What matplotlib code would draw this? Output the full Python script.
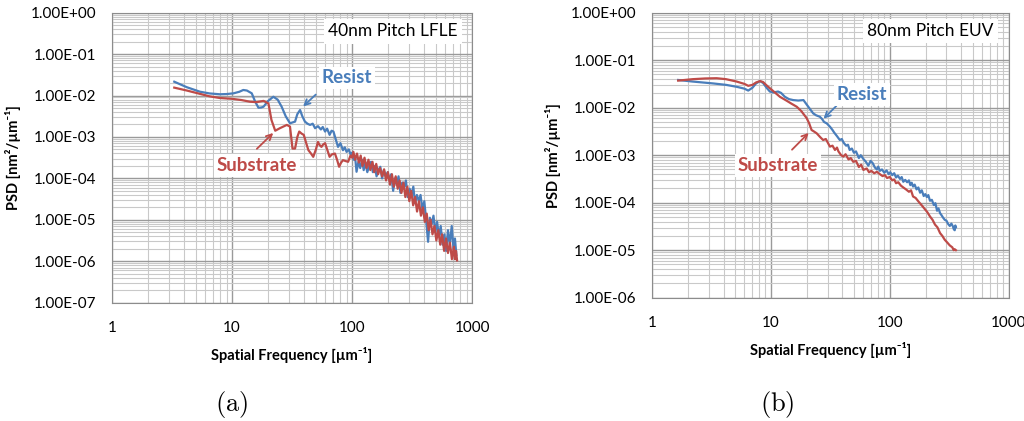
import numpy as np
import matplotlib
matplotlib.use("Agg")
import matplotlib.pyplot as plt
from matplotlib.ticker import LogLocator, FuncFormatter, NullFormatter

plt.rcParams['font.family'] = ['Lato', 'DejaVu Sans']
plt.rcParams['mathtext.fontset'] = 'cm'

BLUE = '#4a7ebb'
RED = '#be4b48'

# ---- (a) 40nm Pitch LFLE : frequency [um^-1], -log10(PSD)
a_res_f = [3.3, 4.2, 5.4, 6.5, 7.9, 9.0, 10.3, 11.5, 12.4, 13.3, 14.6, 15.6, 16.6, 17.5, 18.3,
           20.0, 22.1, 24.0, 25.9, 28.0, 30.4, 33.5, 35.0, 36.9, 38.5, 40.5, 42.5, 44.7, 47, 49.2,
           52, 55, 57, 59.6, 62, 65, 67.5, 70, 73, 76.4, 80, 84, 87, 90, 94, 97, 100, 103, 106,
           109, 113, 117, 121, 125, 129, 134, 139, 144, 149, 155, 160, 166, 172, 178, 184, 191,
           198, 205, 212, 220, 228, 236, 244, 253, 262, 272, 281, 291, 302, 313, 324, 335, 347,
           360, 372, 386, 400, 414, 430, 445, 461, 477, 494, 511, 530, 548, 568, 588, 608, 630,
           652, 677, 700, 720, 740]
a_res_e = [1.667, 1.80, 1.908, 1.95, 1.97, 1.965, 1.947, 1.91, 1.867, 1.88, 1.947, 2.15, 2.295, 2.29, 2.27,
           2.13, 2.03, 2.10, 2.27, 2.50, 2.67, 2.63, 2.45, 2.35, 2.50, 2.63, 2.68, 2.71, 2.68, 2.79,
           2.74, 2.82, 2.76, 2.87, 2.80, 2.95, 2.85, 2.87, 3.05, 3.24, 3.15, 3.32, 3.25, 3.36, 3.30, 3.42, 3.38, 3.55, 3.48,
           3.84, 3.60, 3.75, 3.55, 3.80, 3.62, 3.85, 3.70, 3.60, 3.85, 3.70, 3.95, 3.80, 3.72, 4.00, 3.80, 3.95,
           3.85, 4.05, 3.90, 4.30, 4.00, 4.15, 3.95, 4.35, 4.10, 4.20, 4.05, 4.45, 4.25, 4.40, 4.20, 4.60, 4.40,
           4.55, 4.40, 4.75, 4.55, 5.00, 5.53, 4.95, 5.10, 4.90, 5.30, 5.05, 5.40, 5.15, 5.60, 5.35, 5.75, 5.25,
           5.60, 5.15, 5.70, 5.45, 5.85]

a_sub_f = [3.3, 4.2, 5.4, 6.5, 7.9, 10, 12, 14.1, 16, 18.3, 20.1, 21.3, 22.9, 25, 28.6, 30.4, 31.9,
           33.5, 35, 36.3, 38, 39.6, 41.5, 43.3, 45.5, 47.5, 50, 52, 53.8, 55.6, 57.5, 59.6, 62, 65,
           68, 72, 75, 78, 81, 84, 88, 92.7, 97, 100, 102.6, 106, 110, 114, 118, 122, 127, 132, 137,
           142, 148, 153, 159, 165, 171, 178, 185, 192, 199, 207, 215, 223, 231, 240, 249, 258, 268,
           278, 289, 300, 311, 323, 335, 348, 361, 375, 389, 404, 419, 435, 451, 468, 486, 504, 523,
           543, 563, 585, 607, 630, 654, 679, 705, 720, 735, 750]
a_sub_e = [1.81, 1.88, 1.96, 2.02, 2.06, 2.08, 2.11, 2.15, 2.16, 2.13, 2.19, 2.59, 2.85, 2.79, 2.71, 2.75, 3.28,
           3.28, 3.00, 2.87, 2.92, 2.95, 3.15, 3.32, 3.40, 3.48, 3.30, 3.12, 3.20, 3.24, 3.18, 3.15, 3.30, 3.48,
           3.42, 3.40, 3.55, 3.72, 3.62, 3.56, 3.58, 3.60, 3.45, 3.50, 3.36, 3.55, 3.40, 3.62, 3.45, 3.70, 3.50, 3.75, 3.55,
           3.80, 3.60, 3.85, 3.65, 3.90, 3.75, 3.95, 3.78, 4.05, 3.85, 4.15, 3.90, 4.20, 3.95, 4.25, 4.05, 4.35, 4.10,
           4.45, 4.20, 4.55, 4.30, 4.65, 4.45, 4.80, 4.55, 4.90, 4.70, 5.05, 4.85, 5.25, 5.00, 5.35, 5.15, 5.50, 5.25,
           5.60, 5.35, 5.75, 5.45, 5.80, 5.55, 5.95, 5.65, 5.95, 5.75, 5.98]

# ---- (b) 80nm Pitch EUV
b_res_f = [1.66, 2.2, 3.28, 4.2, 5.15, 6.0, 6.45, 7.0, 7.5, 8.1, 8.6, 9.2, 9.8, 10.5, 11.5, 12.2,
           13.1, 14.2, 15.4, 17, 18.8, 20.5, 22.7, 24, 25.8, 27, 28, 29.5, 31.4, 33, 34, 36, 38, 39.5,
           41, 43, 44.5, 46, 48, 50, 52, 55, 57, 60, 63, 66, 69, 72, 75, 78, 80, 82.6, 86, 90, 94,
           98, 101, 105, 109, 113, 117, 122, 126, 130, 135, 140, 145, 149, 153, 157, 162, 168, 174,
           180, 186, 193, 199, 205, 211, 218, 226, 235, 242, 250, 257, 265, 272, 280, 290, 300, 310,
           320, 330, 340, 346, 352, 356, 360]
b_res_e = [1.417, 1.45, 1.49, 1.52, 1.56, 1.60, 1.64, 1.58, 1.49, 1.44, 1.48, 1.58, 1.66, 1.68, 1.66, 1.69,
           1.77, 1.82, 1.84, 1.85, 1.84, 1.97, 2.12, 2.16, 2.19, 2.24, 2.30, 2.33, 2.40, 2.47, 2.52, 2.60, 2.68, 2.66,
           2.74, 2.80, 2.78, 2.89, 2.86, 2.95, 2.92, 3.06, 3.00, 3.08, 3.14, 3.22, 3.12, 3.17, 3.26, 3.30, 3.24, 3.33, 3.30, 3.37, 3.32,
           3.40, 3.36, 3.42, 3.38, 3.47, 3.43, 3.50, 3.46, 3.56, 3.52, 3.57, 3.53, 3.63, 3.58, 3.66, 3.62, 3.72, 3.68,
           3.79, 3.74, 3.86, 3.82, 3.88, 3.84, 3.96, 3.94, 4.05, 4.01, 4.17, 4.12, 4.22, 4.26, 4.31, 4.36, 4.38, 4.45,
           4.49, 4.44, 4.50, 4.56, 4.58, 4.48, 4.52]

b_sub_f = [1.66, 2.2, 2.8, 3.5, 4.2, 5.15, 6.0, 6.45, 7.0, 7.5, 8.1, 8.6, 9.2, 9.8, 10.8, 11.9, 13.5,
           15, 16.5, 18, 20, 21, 22, 23, 24.3, 26, 27.5, 29, 31.4, 33, 34.6, 36, 37, 39, 40.7, 42.5,
           45, 47, 49.3, 52, 55, 57.5, 60, 64, 67, 70, 74, 78, 82.6, 87, 91, 95, 100, 105, 109, 113,
           118, 124, 130, 137, 145, 151, 157, 165, 175, 185, 195, 207, 218, 229, 240, 252, 265, 277,
           290, 305, 320, 336, 345, 352, 360]
b_sub_e = [1.43, 1.40, 1.385, 1.38, 1.40, 1.45, 1.50, 1.54, 1.52, 1.47, 1.44, 1.46, 1.53, 1.59, 1.68, 1.77, 1.85,
           1.92, 1.98, 2.07, 2.22, 2.33, 2.47, 2.50, 2.54, 2.62, 2.68, 2.66, 2.82, 2.80, 2.89, 2.84, 2.92, 3.00, 3.03, 2.98,
           3.09, 3.06, 3.14, 3.12, 3.25, 3.20, 3.31, 3.28, 3.36, 3.33, 3.38, 3.35, 3.40, 3.44, 3.42, 3.48, 3.46, 3.53, 3.51, 3.59,
           3.57, 3.64, 3.68, 3.72, 3.77, 3.74, 3.87, 3.90, 3.98, 4.05, 4.12, 4.20, 4.29, 4.36, 4.46, 4.52, 4.64, 4.70,
           4.78, 4.84, 4.90, 4.94, 5.00, 4.98, 5.00]

panels = [
    dict(rect=[0.1094, 0.281, 0.3516, 0.689], ylim=(1e-7, 1), title='40nm Pitch LFLE',
         res=(a_res_f, a_res_e), sub=(a_sub_f, a_sub_e), cap='(a)', capx=232,
         res_txt=(90.8, 10**-1.577), res_tail=(51.8, 10**-1.932), res_head=(37.6, 10**-2.31),
         sub_txt=(16.1, 10**-3.696), sub_tail=(15.5, 10**-3.333), sub_head=(22.9, 10**-2.857)),
    dict(rect=[0.6367, 0.2929, 0.3483, 0.677], ylim=(1e-6, 1), title='80nm Pitch EUV',
         res=(b_res_f, b_res_e), sub=(b_sub_f, b_sub_e), cap='(b)', capx=777,
         res_txt=(58.7, 10**-1.718), res_tail=(36.9, 10**-1.922), res_head=(26.7, 10**-2.274),
         sub_txt=(11.5, 10**-3.221), sub_tail=(14.5, 10**-2.926), sub_head=(21.6, 10**-2.49)),
]

fig = plt.figure(figsize=(10.24, 4.21), dpi=100)

for p in panels:
    ax = fig.add_axes(p['rect'])
    ax.set_xscale('log')
    ax.set_yscale('log')
    ax.set_xlim(1, 1000)
    ax.set_ylim(*p['ylim'])

    ax.xaxis.set_minor_locator(LogLocator(base=10, subs=np.arange(2, 10), numticks=100))
    ax.yaxis.set_minor_locator(LogLocator(base=10, subs=np.arange(2, 10), numticks=100))
    ax.yaxis.set_major_locator(LogLocator(base=10, numticks=100))
    ax.xaxis.set_minor_formatter(NullFormatter())
    ax.yaxis.set_minor_formatter(NullFormatter())
    ax.yaxis.set_major_formatter(FuncFormatter(lambda v, pos: f"{v:.2E}"))
    ax.xaxis.set_major_formatter(FuncFormatter(lambda v, pos: f"{v:g}"))
    ax.tick_params(which='both', length=0)
    ax.tick_params(axis='x', pad=13, labelsize=11)
    ax.tick_params(axis='y', pad=11, labelsize=11)

    ax.grid(which='major', color='#9a9a9a', lw=1.0)
    ax.grid(which='minor', color='#c9c9c9', lw=0.8)
    ax.set_axisbelow(True)
    for s in ax.spines.values():
        s.set_color('#8c8c8c')

    f, e = p['res']
    ax.plot(f, 10.0 ** -np.array(e), color=BLUE, lw=1.6)
    f, e = p['sub']
    ax.plot(f, 10.0 ** -np.array(e), color=RED, lw=1.6)

    ax.text(0.78, 0.935, p['title'], transform=ax.transAxes, ha='center', va='center',
            fontsize=12.5, bbox=dict(facecolor='white', edgecolor='none', pad=3))

    ax.annotate('', xy=p['res_head'], xytext=p['res_tail'],
                arrowprops=dict(arrowstyle='->', color=BLUE, lw=1.3))
    ax.annotate('', xy=p['sub_head'], xytext=p['sub_tail'],
                arrowprops=dict(arrowstyle='->', color=RED, lw=1.3))
    ax.text(*p['res_txt'], 'Resist', color=BLUE, fontweight='bold', fontsize=13.5,
            ha='center', va='center', bbox=dict(facecolor='white', edgecolor='none', pad=2))
    ax.text(*p['sub_txt'], 'Substrate', color=RED, fontweight='bold', fontsize=13.5,
            ha='center', va='center', bbox=dict(facecolor='white', edgecolor='none', pad=2))

    ax.set_xlabel('Spatial Frequency [µm⁻¹]', fontweight='bold', fontsize=10.5, labelpad=9)
    ax.set_ylabel('PSD [nm²/µm⁻¹]', fontweight='bold', fontsize=10.5, labelpad=7)

    fig.text(p['capx'] / 1024, 1 - 405 / 421, r'$\mathrm{' + p['cap'] + '}$', fontsize=19,
             ha='center', va='center')

fig.savefig('out.png', dpi=100)
